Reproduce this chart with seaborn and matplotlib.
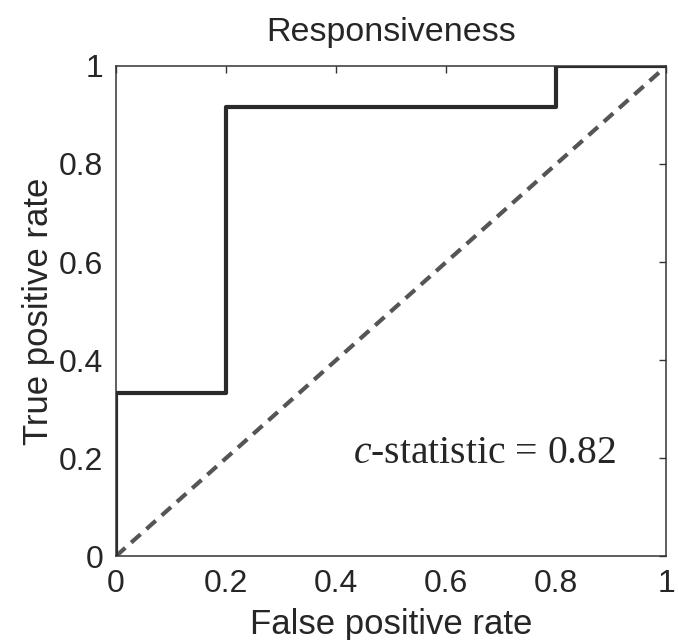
import matplotlib
matplotlib.use("Agg")
import matplotlib.pyplot as plt
import pandas as pd
import seaborn as sns

# ROC step curve
fpr = [0.0, 0.0, 0.2, 0.2, 0.8, 0.8, 1.0]
tpr = [0.0, 1 / 3, 1 / 3, 11 / 12, 11 / 12, 1.0, 1.0]
chance = [0.0, 1.0]
ticks = [0, 0.2, 0.4, 0.6, 0.8, 1]
tick_labels = ["0", "0.2", "0.4", "0.6", "0.8", "1"]
c_stat = 0.82

sns.set_style("white")
plt.rcParams["font.family"] = ["Liberation Sans", "DejaVu Sans"]
plt.rcParams["mathtext.fontset"] = "custom"
plt.rcParams["mathtext.rm"] = "Liberation Serif"
plt.rcParams["mathtext.it"] = "Liberation Serif:italic"

df_roc = pd.DataFrame({"fpr": fpr, "tpr": tpr})
df_chance = pd.DataFrame({"x": chance, "y": chance})

fig = plt.figure(figsize=(6.78, 6.40), dpi=100)
ax = fig.add_axes([0.171, 0.131, 0.812, 0.766])

sns.lineplot(df_chance, x="x", y="y", ax=ax, color="#555555", linewidth=3,
             linestyle=(0, (3, 1.9)), sort=False)
sns.lineplot(df_roc, x="fpr", y="tpr", ax=ax, color="#2a2a2a", linewidth=3,
             sort=False, estimator=None)

ax.set_xlim(0, 1)
ax.set_ylim(0, 1)
ax.set_xticks(ticks, tick_labels)
ax.set_yticks(ticks, tick_labels)
ax.tick_params(direction="in", length=5, width=1, color="#333333",
               labelsize=23, top=True, right=True, pad=9)
for s in ax.spines.values():
    s.set_visible(True)
    s.set_color("#333333")
    s.set_linewidth(1.1)

ax.set_xlabel("False positive rate", fontsize=25, labelpad=7)
ax.set_ylabel("True positive rate", fontsize=25, labelpad=3)
ax.set_title("Responsiveness", fontsize=24.5, pad=18)

ax.text(0.43, 0.19, f"$c$-statistic = {c_stat:.2f}", fontsize=28.5,
        family="Liberation Serif", va="baseline", ha="left")

fig.savefig("out.png", dpi=100)
